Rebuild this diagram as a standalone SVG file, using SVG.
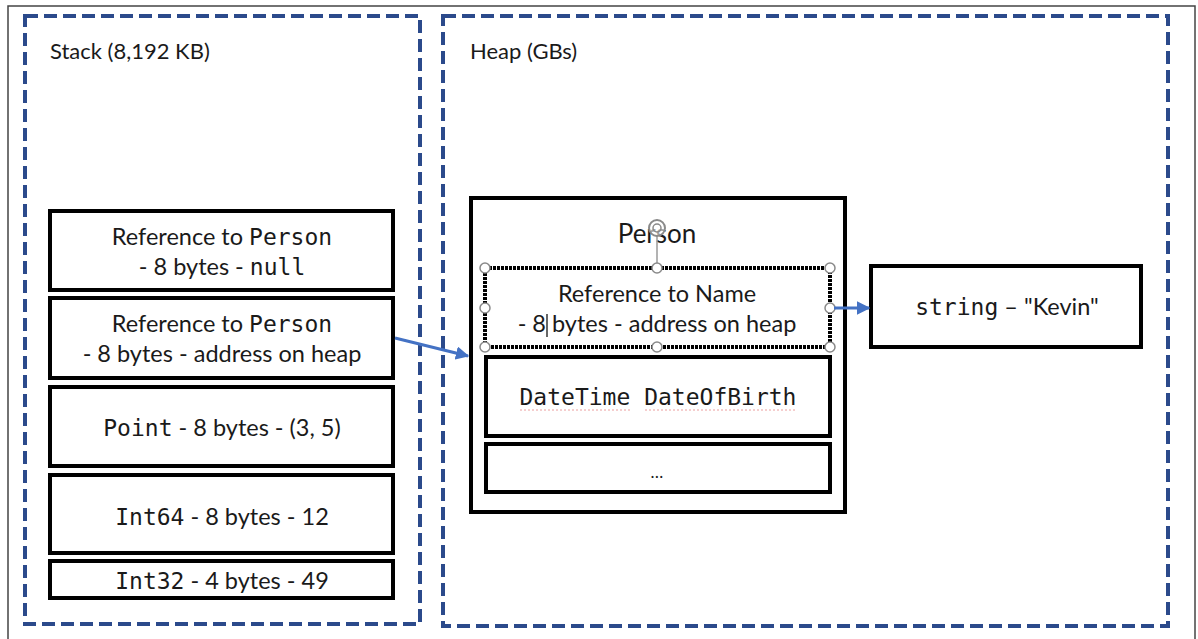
<svg xmlns="http://www.w3.org/2000/svg" width="1198" height="639" viewBox="0 0 1198 639">
<defs>
<style>
.region{fill:none;stroke:#2b4a8b;stroke-width:4;stroke-dasharray:13 6}
.box{fill:#fff;stroke:#000;stroke-width:4}
.t{font-family:Lato,"Liberation Sans",sans-serif;font-size:23.5px;fill:#1a1a1a;text-anchor:middle}
.title{font-family:Lato,"Liberation Sans",sans-serif;font-size:22px;fill:#1a1a1a}
.m{font-family:"DejaVu Sans Mono","Liberation Mono",monospace;font-size:23px}
.h{fill:#fff;stroke:#8a8a8a;stroke-width:1.5}
.conn{stroke:#4472c4;stroke-width:3;fill:none}
</style>
<marker id="arr" viewBox="0 0 10 10" refX="9" refY="5" markerWidth="4.5" markerHeight="4.5" orient="auto" markerUnits="strokeWidth">
<path d="M0,0 L10,5 L0,10 z" fill="#4472c4"/>
</marker>
</defs>
<rect width="1198" height="639" fill="#fff"/>
<rect x="8" y="6" width="1187" height="640" fill="none" stroke="#444" stroke-width="1.5"/>

<g id="stack">
<rect class="region" x="25" y="16" width="395" height="608"/>
<text class="title" x="50" y="59">Stack (8,192 KB)</text>
</g>
<g id="heap">
<rect class="region" x="443" y="16" width="725" height="610"/>
<text class="title" x="470" y="59">Heap (GBs)</text>
</g>

<g id="ref-null">
<rect class="box" x="50" y="211" width="343" height="79"/>
<text class="t" x="222" y="245">Reference to <tspan class="m">Person</tspan></text>
<text class="t" x="222" y="275">- 8 bytes - <tspan class="m">null</tspan></text>
</g>
<g id="ref-addr">
<rect class="box" x="50" y="298" width="343" height="80"/>
<text class="t" x="222" y="332">Reference to <tspan class="m">Person</tspan></text>
<text class="t" x="222" y="362">- 8 bytes - address on heap</text>
</g>
<g id="point">
<rect class="box" x="50" y="387" width="343" height="79"/>
<text class="t" x="222" y="436"><tspan class="m">Point</tspan> - 8 bytes - (3, 5)</text>
</g>
<g id="int64">
<rect class="box" x="50" y="475" width="343" height="78"/>
<text class="t" x="222" y="525"><tspan class="m">Int64</tspan> - 8 bytes - 12</text>
</g>
<g id="int32">
<rect class="box" x="50" y="561" width="343" height="37"/>
<text class="t" x="222" y="589"><tspan class="m">Int32</tspan> - 4 bytes - 49</text>
</g>

<g id="person">
<rect class="box" x="471" y="198" width="374" height="314"/>
<text class="t" x="657" y="243" style="font-size:26px">Person</text>
</g>
<g id="name-ref">
<rect x="485" y="268" width="345" height="79" fill="#fff" stroke="#000" stroke-width="4" stroke-dasharray="3 1"/>
<text class="t" x="657" y="302">Reference to Name</text>
<text class="t" x="657" y="332">- 8 bytes - address on heap</text>
<line x1="547" y1="314" x2="547" y2="337" stroke="#000" stroke-width="1.2"/>
<line x1="657" y1="236" x2="657" y2="268" stroke="#9a9a9a" stroke-width="1.5"/>
<circle cx="657" cy="228" r="8" fill="#fff" fill-opacity="0.6" stroke="#8a8a8a" stroke-width="2"/>
<circle cx="657" cy="228" r="4" fill="none" stroke="#8a8a8a" stroke-width="1.5"/>
<circle class="h" cx="485" cy="268" r="5"/>
<circle class="h" cx="657" cy="268" r="5"/>
<circle class="h" cx="830" cy="268" r="5"/>
<circle class="h" cx="485" cy="308" r="5"/>
<circle class="h" cx="830" cy="308" r="5"/>
<circle class="h" cx="485" cy="347" r="5"/>
<circle class="h" cx="657" cy="347" r="5"/>
<circle class="h" cx="830" cy="347" r="5"/>
</g>
<g id="dob">
<rect class="box" x="486" y="357" width="344" height="79"/>
<text class="t" x="658" y="405"><tspan class="m">DateTime DateOfBirth</tspan></text>
<line x1="520" y1="410" x2="630" y2="410" stroke="#e06060" stroke-width="1" stroke-dasharray="2 2" opacity="0.6"/>
<line x1="645" y1="410" x2="797" y2="410" stroke="#e06060" stroke-width="1" stroke-dasharray="2 2" opacity="0.6"/>
</g>
<g id="more">
<rect class="box" x="486" y="444" width="344" height="48"/>
<text class="t" x="657" y="478" style="font-size:17px">…</text>
</g>
<g id="string">
<rect class="box" x="871" y="266" width="270" height="81"/>
<text class="t" x="1007" y="315"><tspan class="m">string</tspan> – "Kevin"</text>
</g>

<g id="connectors">
<line class="conn" x1="395" y1="338" x2="468" y2="356" marker-end="url(#arr)"/>
<line class="conn" x1="834" y1="308" x2="869" y2="308" marker-end="url(#arr)"/>
</g>
</svg>
